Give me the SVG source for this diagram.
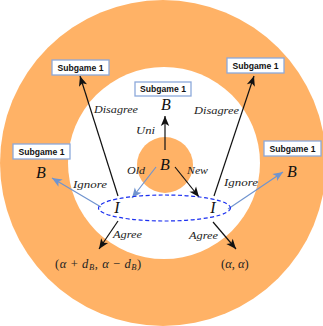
<svg xmlns="http://www.w3.org/2000/svg" width="323" height="326" viewBox="0 0 323 326">
<style>
.box{fill:#fff;stroke:#8DA9DB;stroke-width:1.3}
.bt{font-family:"Liberation Sans",Arial,sans-serif;font-weight:bold;font-size:8.6px;fill:#111;text-anchor:middle}
.lab{font-family:"Liberation Serif","Times New Roman",serif;font-style:italic;font-size:10.5px;fill:#222}
.big{font-family:"Liberation Serif","Times New Roman",serif;font-style:italic;font-size:16px;fill:#111;text-anchor:middle}
.pay{font-family:"Liberation Serif","Times New Roman",serif;font-size:12.5px;fill:#222}
.k{stroke:#111;stroke-width:1.2;fill:none}
.b{stroke:#7094CF;stroke-width:1.2;fill:none}
</style>
<defs>
<marker id="ak" markerUnits="userSpaceOnUse" markerWidth="12" markerHeight="12" viewBox="-11 -5 12 10" refX="0" refY="0" orient="auto">
<path d="M0,0 L-10,-4.2 L-7.5,0 L-10,4.2 Z" fill="#111"/>
</marker>
<marker id="ab" markerUnits="userSpaceOnUse" markerWidth="12" markerHeight="12" viewBox="-11 -5 12 10" refX="0" refY="0" orient="auto">
<path d="M0,0 L-10,-4.2 L-7.5,0 L-10,4.2 Z" fill="#7094CF"/>
</marker>
</defs>
<g id="background">
<circle cx="163" cy="163" r="163" fill="#FFB266"/>
<circle cx="164" cy="163" r="96" fill="#fff"/>
<circle cx="165" cy="165" r="28" fill="#FFB266"/>
</g>
<g id="connectors">
<line class="k" x1="165" y1="150" x2="165" y2="116" marker-end="url(#ak)"/>
<line class="b" x1="156" y1="167" x2="132" y2="198" marker-end="url(#ab)"/>
<line class="k" x1="175" y1="167" x2="199" y2="197" marker-end="url(#ak)"/>
<line class="k" x1="118" y1="196" x2="80" y2="76" marker-end="url(#ak)"/>
<line class="k" x1="214" y1="196" x2="254" y2="76" marker-end="url(#ak)"/>
<line class="b" x1="101" y1="207" x2="52" y2="178" marker-end="url(#ab)"/>
<line class="b" x1="228" y1="209" x2="283" y2="172" marker-end="url(#ab)"/>
<line class="k" x1="118" y1="221" x2="99" y2="249" marker-end="url(#ak)"/>
<line class="k" x1="213" y1="222" x2="236" y2="249" marker-end="url(#ak)"/>
<text class="lab" x="136" y="134" textLength="19" lengthAdjust="spacingAndGlyphs">Uni</text>
<text class="lab" x="127" y="174" textLength="18" lengthAdjust="spacingAndGlyphs">Old</text>
<text class="lab" x="187" y="174" textLength="21" lengthAdjust="spacingAndGlyphs">New</text>
<text class="lab" x="94" y="113" textLength="44" lengthAdjust="spacingAndGlyphs">Disagree</text>
<text class="lab" x="194" y="114" textLength="45" lengthAdjust="spacingAndGlyphs">Disagree</text>
<text class="lab" x="73" y="188" textLength="34" lengthAdjust="spacingAndGlyphs">Ignore</text>
<text class="lab" x="224" y="186" textLength="34" lengthAdjust="spacingAndGlyphs">Ignore</text>
<text class="lab" x="113" y="238" textLength="29" lengthAdjust="spacingAndGlyphs">Agree</text>
<text class="lab" x="189" y="239" textLength="29" lengthAdjust="spacingAndGlyphs">Agree</text>
</g>
<g id="infoset">
<ellipse cx="164.5" cy="208" rx="66" ry="13" fill="none" stroke="#1A2EF0" stroke-width="1.2" stroke-dasharray="4 2.5"/>
</g>
<g id="node-root"><text class="big" x="165" y="170">B</text></g>
<g id="node-top"><rect class="box" x="135" y="82" width="56" height="14"/><text class="bt" x="163" y="92">Subgame 1</text><text class="big" x="166" y="110">B</text></g>
<g id="node-I-left"><text class="big" x="117" y="213">I</text></g>
<g id="node-I-right"><text class="big" x="213" y="213">I</text></g>
<g id="node-sub-tl"><rect class="box" x="52" y="60" width="57" height="15"/><text class="bt" x="80.5" y="70.8">Subgame 1</text></g>
<g id="node-sub-tr"><rect class="box" x="227" y="58" width="57" height="15"/><text class="bt" x="255.5" y="68.8">Subgame 1</text></g>
<g id="node-B-left"><rect class="box" x="13" y="144" width="57" height="15"/><text class="bt" x="41.5" y="154.8">Subgame 1</text><text class="big" x="41" y="178">B</text></g>
<g id="node-B-right"><rect class="box" x="264" y="141" width="57" height="15"/><text class="bt" x="292.5" y="151.8">Subgame 1</text><text class="big" x="292" y="177">B</text></g>
<g id="node-pay-left"><text class="pay" x="55" y="268" letter-spacing="0.6">(<tspan font-style="italic">α</tspan> + <tspan font-style="italic">d</tspan><tspan font-style="italic" font-size="8.5px" dy="2">B</tspan><tspan dy="-2">, </tspan><tspan font-style="italic">α</tspan> − <tspan font-style="italic">d</tspan><tspan font-style="italic" font-size="8.5px" dy="2">B</tspan><tspan dy="-2">)</tspan></text></g>
<g id="node-pay-right"><text class="pay" x="221" y="268">(<tspan font-style="italic">α</tspan>, <tspan font-style="italic">α</tspan>)</text></g>
</svg>
